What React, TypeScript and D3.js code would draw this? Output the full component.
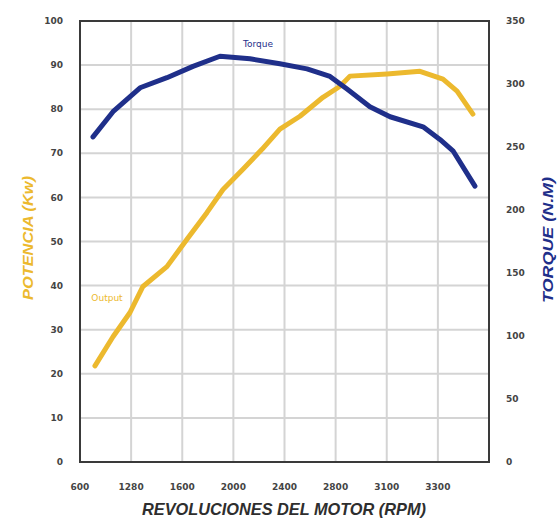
import React from "react";
import * as d3 from "d3";

const rpmTicks = [600, 1280, 1600, 2000, 2400, 2800, 3100, 3300];
const rpmDomain = [600, 1280, 1600, 2000, 2400, 2800, 3100, 3300, 3500];
const powerTicks = [0, 10, 20, 30, 40, 50, 60, 70, 80, 90, 100];
const torqueTicks = [0, 50, 100, 150, 200, 250, 300, 350];

const torqueRpm = [773, 1039, 1336, 1504, 1684, 1895, 2130, 2364, 2576, 2756, 2867, 3001, 3113, 3242, 3308, 3359, 3445];
const torqueVal = [258, 278, 297, 305, 314, 322, 320, 316, 312, 306, 296, 282, 274, 266, 256, 247, 219];

const powerRpm = [799, 1039, 1265, 1354, 1504, 1637, 1794, 1919, 2075, 2224, 2364, 2521, 2701, 2826, 2884, 3101, 3230, 3320, 3375, 3437];
const powerVal = [21.8, 28.4, 33.9, 39.8, 44.3, 50.5, 56.6, 61.8, 66.4, 70.9, 75.5, 78.4, 82.7, 85.2, 87.5, 88, 88.6, 86.8, 84.1, 78.9];

const W = 558, H = 522;
const L = 80, R = 489, T = 21, B = 462;

const BLUE = "#1f2f8a";
const YELLOW = "#ecb92e";

export default function App() {
  const step = (R - L) / (rpmDomain.length - 1);
  const x = d3.scaleLinear().domain(rpmDomain).range(rpmDomain.map((_, i) => L + i * step));
  const yP = d3.scaleLinear().domain([0, 100]).range([B, T]);
  const yT = d3.scaleLinear().domain([0, 350]).range([B, T]);

  const torqueLine = d3.line<number>().x((d, i) => x(torqueRpm[i])).y((d) => yT(d)).curve(d3.curveLinear);
  const powerLine = d3.line<number>().x((d, i) => x(powerRpm[i])).y((d) => yP(d)).curve(d3.curveLinear);

  const tickFont = "'DejaVu Sans', sans-serif";
  const titleFont = "'Liberation Sans Narrow', 'Liberation Sans', Arial, sans-serif";

  return (
    <svg width={W} height={H} style={{ position: "absolute", left: 0, top: 0, background: "#fff" }}>
      {powerTicks.slice(1, -1).map((t) => (
        <line key={"h" + t} x1={L} x2={R} y1={yP(t)} y2={yP(t)} stroke="#d4d4d4" strokeWidth={2} />
      ))}
      {rpmTicks.slice(1).map((t) => (
        <line key={"v" + t} x1={x(t)} x2={x(t)} y1={T} y2={B} stroke="#d4d4d4" strokeWidth={2} />
      ))}
      <rect x={L} y={T} width={R - L} height={B - T} fill="none" stroke="#3a3a3a" strokeWidth={2} />

      <path d={powerLine(powerVal) || ""} fill="none" stroke={YELLOW} strokeWidth={5} strokeLinejoin="round" strokeLinecap="round" />
      <path d={torqueLine(torqueVal) || ""} fill="none" stroke={BLUE} strokeWidth={5} strokeLinejoin="round" strokeLinecap="round" />

      <text x={258} y={47} fontFamily={tickFont} fontSize={9} fill={BLUE} textAnchor="middle">Torque</text>
      <text x={107} y={301} fontFamily={tickFont} fontSize={9} fill={YELLOW} textAnchor="middle">Output</text>

      {powerTicks.map((t) => (
        <text key={"lp" + t} x={63} y={yP(t)} dy="0.35em" textAnchor="end" fontFamily={tickFont} fontWeight="bold" fontSize={9} fill="#444">{t}</text>
      ))}
      {torqueTicks.map((t) => (
        <text key={"rt" + t} x={506} y={yT(t)} dy="0.35em" textAnchor="start" fontFamily={tickFont} fontWeight="bold" fontSize={9} fill="#444">{t}</text>
      ))}
      {rpmTicks.map((t) => (
        <text key={"bx" + t} x={x(t)} y={487} dy="0.35em" textAnchor="middle" fontFamily={tickFont} fontWeight="bold" fontSize={9} fill="#444">{t}</text>
      ))}

      <text x={284} y={515} textAnchor="middle" fontFamily={titleFont} fontWeight="bold" fontStyle="italic" fontSize={17} fill="#2e2e2e" textLength={284} lengthAdjust="spacingAndGlyphs">REVOLUCIONES DEL MOTOR (RPM)</text>
      <text transform={`translate(33,238) rotate(-90)`} textAnchor="middle" fontFamily={titleFont} fontWeight="bold" fontStyle="italic" fontSize={14} fill={YELLOW} textLength={124} lengthAdjust="spacingAndGlyphs">POTENCIA (Kw)</text>
      <text transform={`translate(553,240) rotate(-90)`} textAnchor="middle" fontFamily={titleFont} fontWeight="bold" fontStyle="italic" fontSize={14} fill={BLUE} textLength={126} lengthAdjust="spacingAndGlyphs">TORQUE (N.M)</text>
    </svg>
  );
}
